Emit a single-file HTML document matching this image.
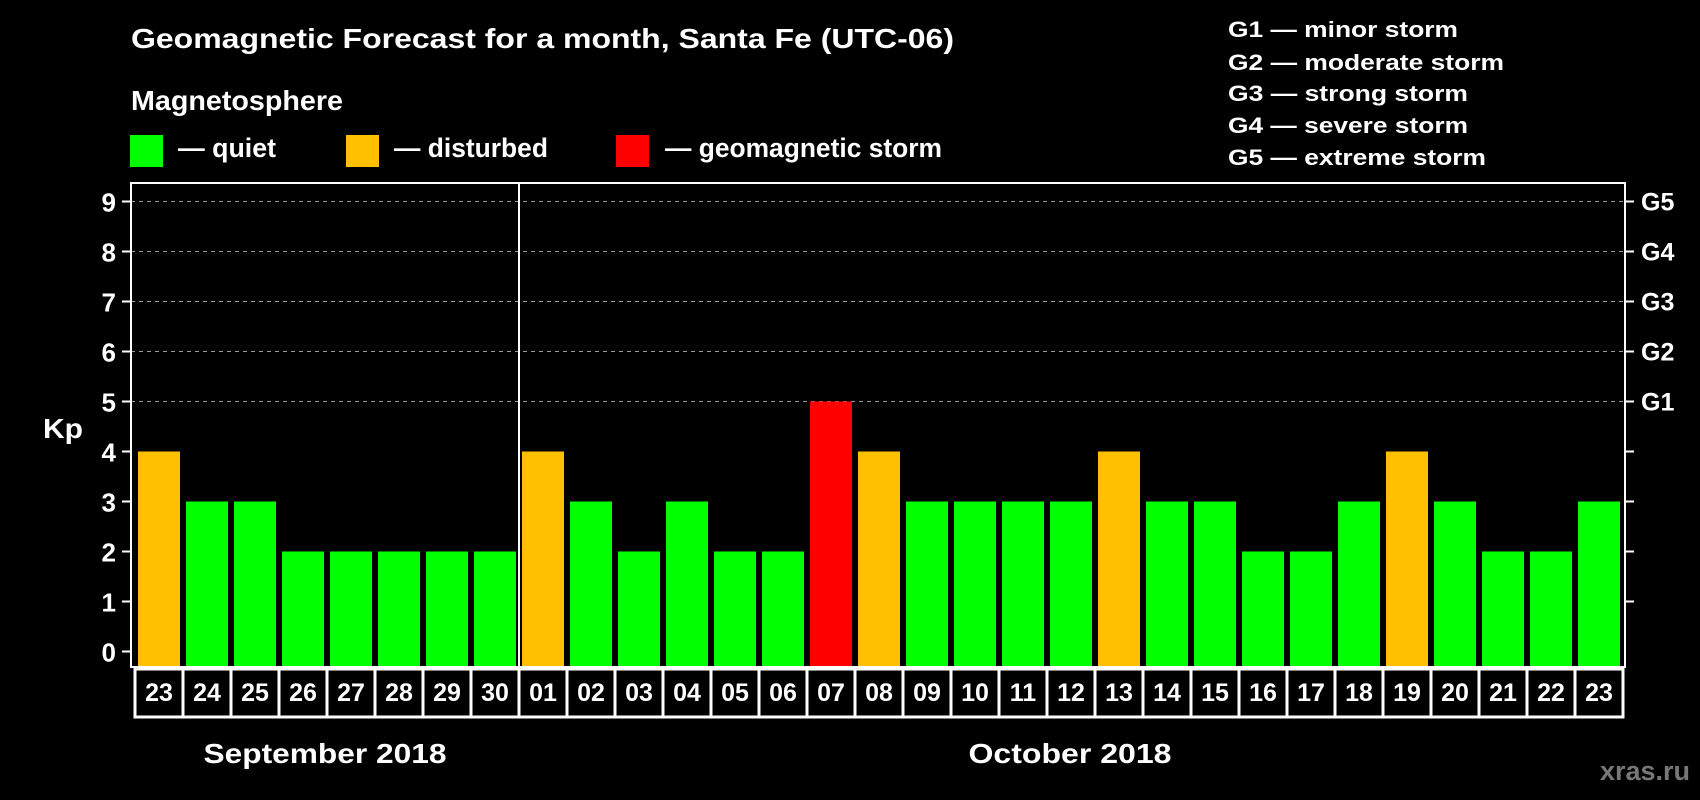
<!DOCTYPE html>
<html><head><meta charset="utf-8"><style>
html,body{margin:0;padding:0;background:#000;}
svg{display:block;font-family:"Liberation Sans",Arial,sans-serif;font-weight:bold;}
</style></head><body>
<svg id="chart" width="1700" height="800" viewBox="0 0 1700 800">
<rect width="1700" height="800" fill="#000"/>
<text x="131" y="48" font-size="28" fill="#fff" textLength="823" lengthAdjust="spacingAndGlyphs">Geomagnetic Forecast for a month, Santa Fe (UTC-06)</text>
<text x="131" y="110" font-size="28" fill="#fff" textLength="212" lengthAdjust="spacingAndGlyphs">Magnetosphere</text>
<g>
<rect x="130" y="135" width="33" height="32" fill="#00ff00"/>
<text x="178" y="157" font-size="27" fill="#fff" textLength="98" lengthAdjust="spacingAndGlyphs">— quiet</text></g>
<g>
<rect x="346" y="135" width="33" height="32" fill="#ffc000"/>
<text x="394" y="157" font-size="27" fill="#fff" textLength="154" lengthAdjust="spacingAndGlyphs">— disturbed</text></g>
<g>
<rect x="616" y="135" width="33" height="32" fill="#ff0000"/>
<text x="665" y="157" font-size="27" fill="#fff" textLength="277" lengthAdjust="spacingAndGlyphs">— geomagnetic storm</text></g>
<g font-size="22" fill="#fff">
<text x="1228" y="37" textLength="230" lengthAdjust="spacingAndGlyphs">G1 — minor storm</text>
<text x="1228" y="70" textLength="276" lengthAdjust="spacingAndGlyphs">G2 — moderate storm</text>
<text x="1228" y="101" textLength="240" lengthAdjust="spacingAndGlyphs">G3 — strong storm</text>
<text x="1228" y="133" textLength="240" lengthAdjust="spacingAndGlyphs">G4 — severe storm</text>
<text x="1228" y="165" textLength="258" lengthAdjust="spacingAndGlyphs">G5 — extreme storm</text>
</g>
<text x="43" y="438" font-size="28" fill="#fff" textLength="40" lengthAdjust="spacingAndGlyphs">Kp</text>
<g id="grid"></g><g id="bars"></g><g id="axes"></g><g id="table"></g>
<text x="325" y="763" font-size="28" fill="#fff" text-anchor="middle" textLength="243" lengthAdjust="spacingAndGlyphs">September 2018</text>
<text x="1070" y="763" font-size="28" fill="#fff" text-anchor="middle" textLength="203" lengthAdjust="spacingAndGlyphs">October 2018</text>
<text x="1690" y="780" font-size="27" fill="#777" text-anchor="end">xras.ru</text>
</svg>
<script>
const days = ["23","24","25","26","27","28","29","30","01","02","03","04","05","06","07","08","09","10","11","12","13","14","15","16","17","18","19","20","21","22","23"];
const kpValues = [4,3,3,2,2,2,2,2,4,3,2,3,2,2,5,4,3,3,3,3,4,3,3,2,2,3,4,3,2,2,3];
const yTicks = [0,1,2,3,4,5,6,7,8,9];
const gLabels = ["","","","","","G1","G2","G3","G4","G5"];
const NS="http://www.w3.org/2000/svg";
const plotL=131, plotR=1625, plotT=183, plotB=667, cell0=135, pitch=48;
function y(v){return 651.5 - v*50;}
function xc(i){return cell0 + i*pitch;}
function mk(tag, attrs, parent){const e=document.createElementNS(NS,tag);for(const k in attrs)e.setAttribute(k,attrs[k]);parent.appendChild(e);return e;}
const grid=document.getElementById('grid'), bars=document.getElementById('bars'), axes=document.getElementById('axes'), table=document.getElementById('table');
yTicks.forEach((t,i)=>{
  if(t>=5){const g=mk('line',{x1:plotL,x2:plotR,y1:y(t),y2:y(t),stroke:'#999','stroke-width':1,'stroke-dasharray':'4 4'},grid);
  
  }
  const tk=mk('line',{x1:122,x2:plotL,y1:y(t),y2:y(t),stroke:'#fff','stroke-width':2},axes);
  
  
  const lb=mk('text',{x:116,y:y(t)+10,'font-size':26,fill:'#fff','text-anchor':'end'},axes);
  lb.textContent=t;
  
  
  if(t>=1){const rt=mk('line',{x1:plotR,x2:plotR+9,y1:y(t),y2:y(t),stroke:'#fff','stroke-width':2},axes);
  
  }
  if(gLabels[i]){const gl=mk('text',{x:1641,y:y(t)+9,'font-size':25,fill:'#fff'},axes);
  gl.textContent=gLabels[i];
  
  }
});
kpValues.forEach((v,i)=>{
  const col=v>=5?'#ff0000':(v>=4?'#ffc000':'#00ff00');
  const b=mk('rect',{x:xc(i)+3,y:y(v),width:42,height:plotB-y(v),fill:col},bars);
  
  
  const c=mk('rect',{x:xc(i),y:669,width:pitch,height:48,fill:'none',stroke:'#fff','stroke-width':3},table);
  
  
  const t=mk('text',{x:xc(i)+pitch/2,y:701,'font-size':25,fill:'#fff','text-anchor':'middle'},table);
  t.textContent=days[i];
  
  
});
const box=mk('rect',{x:plotL,y:plotT,width:plotR-plotL,height:plotB-plotT,fill:'none',stroke:'#fff','stroke-width':2},axes);


const sepIdx=days.indexOf("01");
const sep=mk('line',{x1:xc(sepIdx),x2:xc(sepIdx),y1:plotT,y2:plotB,stroke:'#fff','stroke-width':2},axes);


</script>
</body></html>
